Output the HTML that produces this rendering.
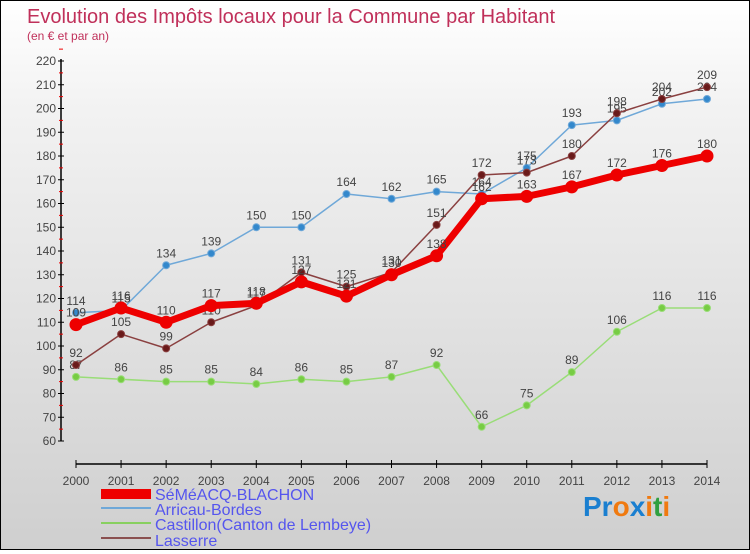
<!DOCTYPE html>
<html><head><meta charset="utf-8"><style>
body{margin:0;width:750px;height:550px;overflow:hidden;font-family:"Liberation Sans",sans-serif}
#c{position:absolute;left:0;top:0;width:748px;height:548px;border:1px solid #000;background:linear-gradient(#ffffff,#f2f2f2 20%,#cfcfcf)}
</style></head><body>
<div id="c">
<svg id="s" width="748" height="548" xmlns="http://www.w3.org/2000/svg">
<text x="26" y="22" font-size="20" fill="#c0305a">Evolution des Impôts locaux pour la Commune par Habitant</text>
<text x="26" y="39" font-size="12" fill="#c0305a">(en € et par an)</text>
<g id="axes"></g><g id="series"></g>
<g font-size="16" fill="#5555ee">
<rect x="100" y="488" width="50" height="10" fill="#e00"/>
<text x="154" y="499">SéMéACQ-BLACHON</text>
<rect x="100" y="506" width="50" height="2" fill="#6fa8d8"/>
<text x="154" y="514">Arricau-Bordes</text>
<rect x="100" y="521" width="50" height="2" fill="#88d060"/>
<text x="154" y="529">Castillon(Canton de Lembeye)</text>
<rect x="100" y="536" width="50" height="2" fill="#8a5050"/>
<text x="154" y="545">Lasserre</text>
</g>
<text x="582" y="515" font-size="28" font-weight="bold"><tspan fill="#1a7fd0">Pr</tspan><tspan fill="#f07a10">o</tspan><tspan fill="#1a7fd0">x</tspan><tspan fill="#f07a10">i</tspan><tspan fill="#30a040">t</tspan><tspan fill="#f07a10">i</tspan></text>
</svg></div>
<script>
const years=[2000,2001,2002,2003,2004,2005,2006,2007,2008,2009,2010,2011,2012,2013,2014];
const yTicks=[60,70,80,90,100,110,120,130,140,150,160,170,180,190,200,210,220];
const semeacq=[109,116,110,117,118,127,121,130,138,162,163,167,172,176,180];
const arricau=[114,115,134,139,150,150,164,162,165,164,175,193,195,202,204];
const castillon=[87,86,85,85,84,86,85,87,92,66,75,89,106,116,116];
const lasserre=[92,105,99,110,117,131,125,131,151,172,173,180,198,204,209];
const NS="http://www.w3.org/2000/svg";
const X=i=>75+i*(706-75)/(years.length-1);
const Y=v=>440-(v-60)*(380/160);
function mk(t,a,p){const e=document.createElementNS(NS,t);for(const k in a)e.setAttribute(k,a[k]);p.appendChild(e);return e;}
const ax=document.getElementById('axes');
let yl=mk('line',{x1:60,y1:58,x2:60,y2:440,stroke:'#000','stroke-width':1.5},ax);


yTicks.forEach(v=>{
 mk('line',{x1:57,x2:63,y1:Y(v),y2:Y(v),stroke:'#000'},ax);
 mk('line',{x1:58,x2:62,y1:Y(v+5),y2:Y(v+5),stroke:'#e00'},ax);
 const t=mk('text',{x:55,y:Y(v)+4,'text-anchor':'end','font-size':12,fill:'#444'},ax);t.textContent=v;
 
 
});
let xl=mk('line',{x1:75,y1:463,x2:706,y2:463,stroke:'#000','stroke-width':1.5},ax);


years.forEach((y,i)=>{
 mk('line',{x1:X(i),x2:X(i),y1:459,y2:467,stroke:'#000'},ax);
 const t=mk('text',{x:X(i),y:484,'text-anchor':'middle','font-size':12,fill:'#444'},ax);t.textContent=y;
 
 
});
const sg=document.getElementById('series');
function draw(d,name,col,w,r,dot){
 const g=mk('g',{},sg);
 
 
 const p=mk('polyline',{points:d.map((v,i)=>X(i)+','+Y(v)).join(' '),fill:'none',stroke:col,'stroke-width':w,'stroke-linejoin':'round'},g);
 
 
 d.forEach((v,i)=>{
  const c=mk('circle',{cx:X(i),cy:Y(v),r:r,fill:dot,stroke:col,'stroke-width':1},g);
  
  
  const t=mk('text',{x:X(i),y:Y(v)-8,'text-anchor':'middle','font-size':12,fill:'#444'},g);t.textContent=v;
  
  
 });
}
draw(castillon,'castillon','#99dd77',1.5,3.5,'#77cc44');
draw(arricau,'arricau','#6fa8d8',1.5,3.5,'#3388cc');
draw(lasserre,'lasserre','#8a4040',1.5,3.5,'#6a1a1a');
draw(semeacq,'semeacq','#ee0000',7,6,'#ee0000');
</script>
</body></html>
